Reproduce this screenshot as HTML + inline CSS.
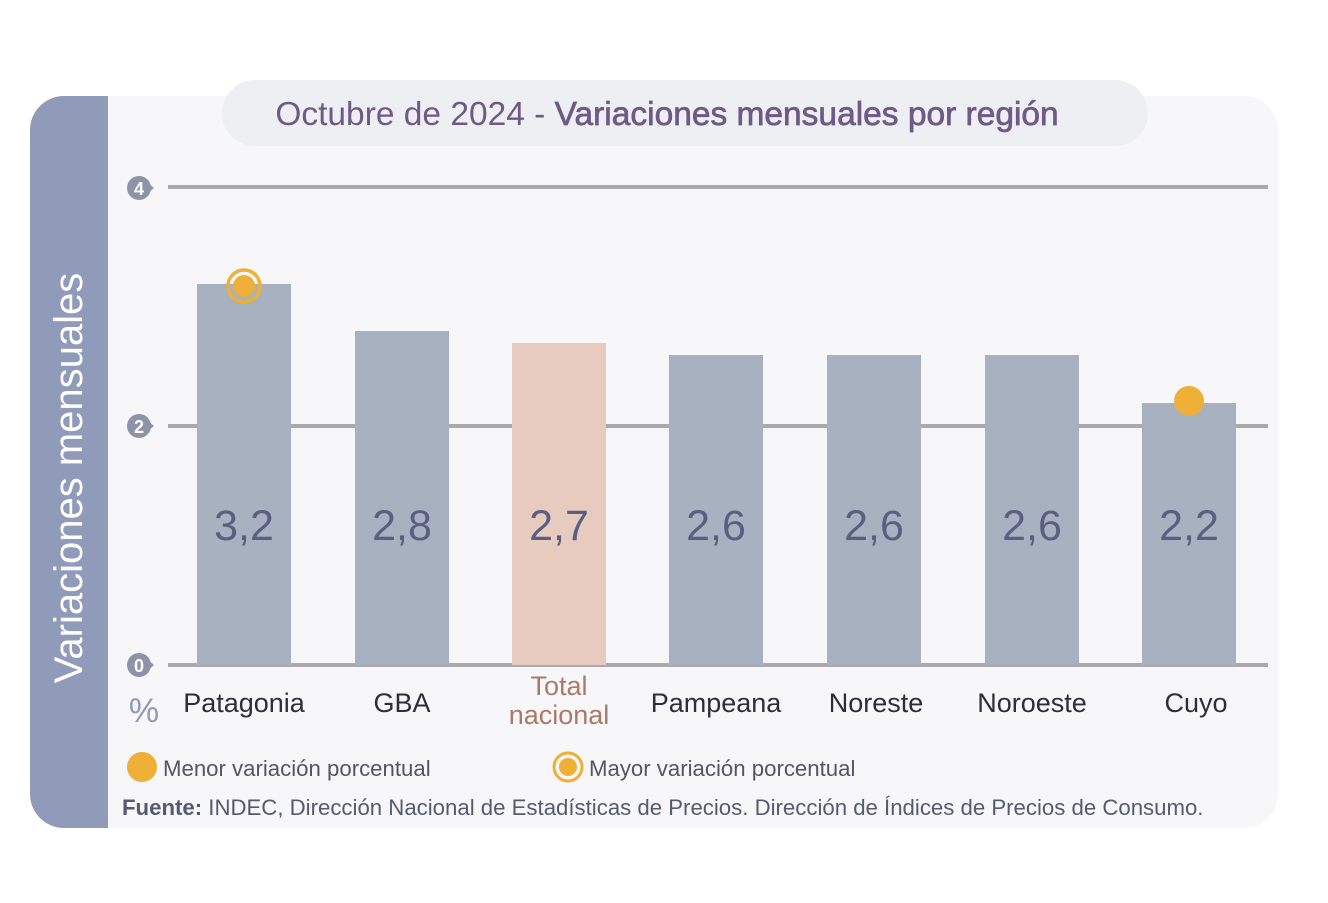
<!DOCTYPE html>
<html><head><meta charset="utf-8"><style>
body{margin:0;width:1328px;height:898px;background:#fff;overflow:hidden;font-family:"Liberation Sans",sans-serif}
</style></head><body>
<svg width="1328" height="898" viewBox="0 0 1328 898" xmlns="http://www.w3.org/2000/svg" font-family="Liberation Sans, sans-serif">
<rect x="60" y="96" width="1218" height="732" rx="34" fill="#f7f7f9"/>
<path d="M108 96 H64 A34 34 0 0 0 30 130 V794 A34 34 0 0 0 64 828 H108 Z" fill="#909bba"/>
<rect x="222" y="80" width="926" height="66" rx="33" fill="#eeeff2"/>
<text x="667" y="125" text-anchor="middle" font-size="33.5" fill="#6e5a86">Octubre de 2024 - <tspan fill="#6e5a86" stroke="#6e5a86" stroke-width="0.7">Variaciones mensuales por región</tspan></text>
<text transform="translate(82,478) rotate(-90)" text-anchor="middle" font-size="40" fill="#fff">Variaciones  mensuales</text>
<g stroke="#aaa9ae" stroke-width="4">
<line x1="168" y1="187" x2="1268" y2="187"/><line x1="168" y1="426" x2="1268" y2="426"/><line x1="168" y1="665" x2="1268" y2="665"/></g>
<g fill="#a7b1c0">
<rect x="197" y="284" width="94" height="381"/><rect x="355" y="331" width="94" height="334"/>
<rect x="669" y="355" width="94" height="310"/><rect x="827" y="355" width="94" height="310"/>
<rect x="985" y="355" width="94" height="310"/><rect x="1142" y="403" width="94" height="262"/></g>
<rect x="512" y="343" width="94" height="322" fill="#e8cbbf"/>
<g fill="#8f93a8">
<circle cx="139" cy="188" r="12"/><path d="M140 176 L154 188 L140 200Z"/>
<circle cx="139" cy="426" r="12"/><path d="M140 414 L154 426 L140 438Z"/>
<circle cx="139" cy="665" r="12"/><path d="M140 653 L154 665 L140 677Z"/></g>
<g fill="#fff" font-size="18" font-weight="bold" text-anchor="middle">
<text x="139" y="195">4</text><text x="139" y="433">2</text><text x="139" y="672">0</text></g>
<g font-size="43" fill="#5a5e80" text-anchor="middle">
<text x="244" y="540">3,2</text><text x="402" y="540">2,8</text><text x="559" y="540">2,7</text>
<text x="716" y="540">2,6</text><text x="874" y="540">2,6</text><text x="1032" y="540">2,6</text><text x="1189" y="540">2,2</text></g>
<g font-size="27" fill="#2e2e38" text-anchor="middle">
<text x="244" y="712">Patagonia</text><text x="402" y="712">GBA</text>
<text x="716" y="712">Pampeana</text><text x="876" y="712">Noreste</text><text x="1032" y="712">Noroeste</text><text x="1196" y="712">Cuyo</text></g>
<g font-size="27" fill="#a97a66" text-anchor="middle"><text x="559" y="695">Total</text><text x="559" y="724">nacional</text></g>
<text x="144" y="722" text-anchor="middle" font-size="34" fill="#8f9ab8">%</text>
<circle cx="244" cy="286" r="16" fill="none" stroke="#eeb036" stroke-width="3.5"/><circle cx="244" cy="286" r="11" fill="#eeb036"/>
<circle cx="1189" cy="401" r="15" fill="#eeb036"/>
<circle cx="142" cy="767" r="15" fill="#eeb036"/>
<text x="163" y="776" font-size="22.2" fill="#55555f">Menor variación porcentual</text>
<circle cx="568" cy="767" r="14" fill="none" stroke="#eeb036" stroke-width="3"/><circle cx="568" cy="767" r="9" fill="#eeb036"/>
<text x="589" y="776" font-size="22.2" fill="#55555f">Mayor variación porcentual</text>
<text x="122" y="815" font-size="22.2" fill="#555a70"><tspan font-weight="bold">Fuente:</tspan> INDEC, Dirección Nacional de Estadísticas de Precios. Dirección de Índices de Precios de Consumo.</text>
</svg>
</body></html>
